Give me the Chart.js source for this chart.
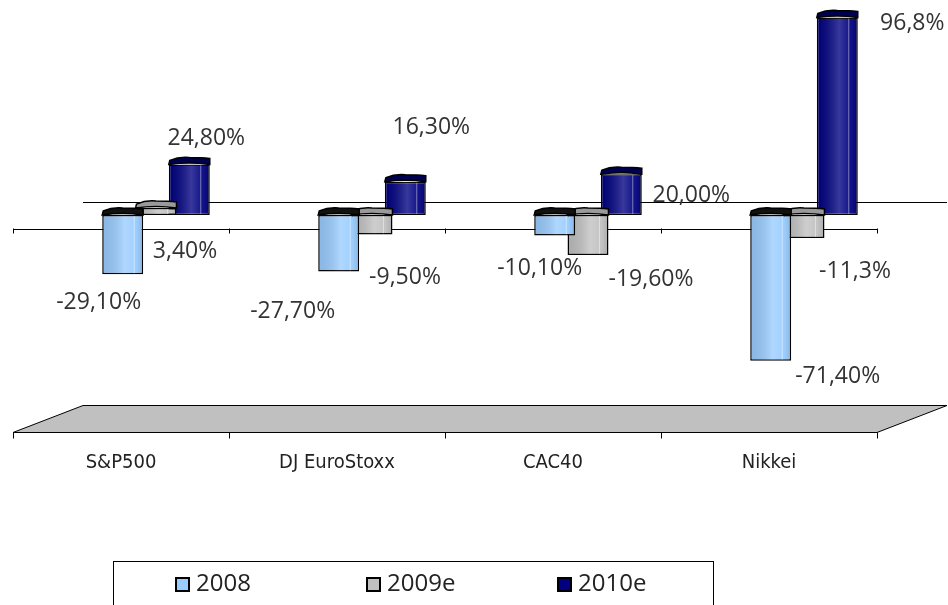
<!DOCTYPE html>
<html>
<head>
<meta charset="utf-8">
<script src="https://cdn.jsdelivr.net/npm/chart.js@4.4.1/dist/chart.umd.min.js"></script>
<style>
html, body { margin: 0; padding: 0; background: #fff; }
</style>
</head>
<body>
<canvas id="GraphIndices" width="948" height="605"></canvas>
<script>
// data
var categories = ['S&P500', 'DJ EuroStoxx', 'CAC40', 'Nikkei'];
var years = ['2008', '2009e', '2010e'];
var perf2008 = [-29.1, -27.7, -10.1, -71.4];
var perf2009 = [3.4, -9.5, -19.6, -11.3];
var perf2010 = [24.8, 16.3, 20.0, 96.8];
var text2008 = ['-29,10%', '-27,70%', '-10,10%', '-71,40%'];
var text2009 = ['3,40%', '-9,50%', '-19,60%', '-11,3%'];
var text2010 = ['24,80%', '16,30%', '20,00%', '96,8%'];

// where excel dropped each label, relative to the bar end
var labelShift = [
    [[-24, 28], [-46, 40], [-15, 33], [67, 16]],
    [[29, 43], [33, 43], [63, 24], [51, 33]],
    [[17, -26], [26, -54], [70, 21], [75, 6]]
];
var labelTexts = [text2008, text2009, text2010];
var capColors = ['#111', '#9a9a9a', '#000050'];

var depthX = 35, depthY = 13.5;
var valueFont = '23px "Open Sans", "Liberation Sans", sans-serif';
var catFont = '20px "DejaVu Sans Condensed", "Liberation Sans Narrow", sans-serif';

function hline(ctx, x1, x2, y) {
    ctx.beginPath();
    ctx.moveTo(x1, Math.round(y) + 0.5);
    ctx.lineTo(x2, Math.round(y) + 0.5);
    ctx.stroke();
}

var threeD = {
    id: 'threeD',
    beforeDatasetsDraw: function(chart) {
        var ctx = chart.ctx, xs = chart.scales.x, ys = chart.scales.y;
        var y0 = ys.getPixelForValue(0), yb = ys.getPixelForValue(ys.min);
        var L = xs.left, R = xs.right, step = (R - L) / categories.length;
        ctx.save();
        ctx.strokeStyle = '#000';
        ctx.lineWidth = 1;

        // floor
        ctx.fillStyle = '#c0c0c0';
        ctx.beginPath();
        ctx.moveTo(L - depthX, yb + depthY);
        ctx.lineTo(R - depthX, yb + depthY);
        ctx.lineTo(R + depthX, yb - depthY);
        ctx.lineTo(L + depthX, yb - depthY);
        ctx.closePath();
        ctx.fill();
        ctx.stroke();

        // back and front zero lines
        hline(ctx, L + depthX, R + depthX, y0 - depthY);
        hline(ctx, L - depthX, R - depthX, y0 + depthY);

        for (var i = 0; i <= categories.length; i++) {
            var tx = Math.round(L - depthX + i * step) + 0.5;
            ctx.beginPath();
            ctx.moveTo(tx, y0 + depthY);
            ctx.lineTo(tx, y0 + depthY + 5);
            ctx.moveTo(tx, yb + depthY);
            ctx.lineTo(tx, yb + depthY + 6);
            ctx.stroke();
        }

        // category names under the floor
        ctx.fillStyle = '#222';
        ctx.font = catFont;
        ctx.textAlign = 'center';
        ctx.textBaseline = 'middle';
        for (var j = 0; j < categories.length; j++) {
            ctx.fillText(categories[j], xs.getPixelForValue(j) - depthX, yb + depthY + 30);
        }
        ctx.restore();
    },
    afterDatasetDraw: function(chart, args) {
        var ctx = chart.ctx;
        var meta = args.meta;
        var capColor = capColors[args.index];
        ctx.save();
        meta.data.forEach(function(el) {
            var p = el.getProps(['x', 'y', 'base', 'width'], true);
            var left = p.x - p.width / 2, right = p.x + p.width / 2;
            var top = Math.min(p.y, p.base), bottom = Math.max(p.y, p.base);
            var w = right - left;

            // cylinder shading
            var g = ctx.createLinearGradient(left, 0, right, 0);
            g.addColorStop(0, 'rgba(0,0,0,0.10)');
            g.addColorStop(0.55, 'rgba(255,255,255,0.22)');
            g.addColorStop(0.8, 'rgba(255,255,255,0.08)');
            g.addColorStop(1, 'rgba(0,0,0,0.12)');
            ctx.fillStyle = g;
            ctx.fillRect(left + 1, top + 1, w - 2, bottom - top - 2);
            ctx.strokeStyle = 'rgba(255,255,255,0.45)';
            ctx.lineWidth = 1;
            ctx.beginPath();
            ctx.moveTo(left + w * 0.78, top + 1);
            ctx.lineTo(left + w * 0.78, bottom - 1);
            ctx.stroke();

            // top cap
            ctx.fillStyle = capColor;
            ctx.strokeStyle = '#000';
            ctx.lineWidth = 1.5;
            ctx.beginPath();
            ctx.moveTo(left, top);
            ctx.lineTo(left + 1, top - 4);
            ctx.quadraticCurveTo(left + w * 0.25, top - 8, left + w * 0.5, top - 7);
            ctx.quadraticCurveTo(left + w * 0.8, top - 7, right, top - 6);
            ctx.lineTo(right, top);
            ctx.quadraticCurveTo(left + w * 0.5, top - 3, left, top);
            ctx.closePath();
            ctx.fill();
            ctx.stroke();
        });
        ctx.restore();
    },
    afterDatasetsDraw: function(chart) {
        var ctx = chart.ctx;
        ctx.save();
        ctx.font = valueFont;
        ctx.fillStyle = '#333';
        ctx.textAlign = 'center';
        ctx.textBaseline = 'middle';
        chart.data.datasets.forEach(function(ds, d) {
            var meta = chart.getDatasetMeta(d);
            meta.data.forEach(function(el, i) {
                var sh = labelShift[d][i];
                ctx.fillText(labelTexts[d][i], el.x + sh[0], el.y + sh[1]);
            });
        });
        ctx.restore();
    },
    afterDraw: function(chart) {
        // legend box at the bottom
        var ctx = chart.ctx;
        var bx = 113, by = 561, bw = 600;
        ctx.save();
        ctx.fillStyle = '#fff';
        ctx.strokeStyle = '#000';
        ctx.lineWidth = 1;
        ctx.fillRect(bx, by, bw, 60);
        ctx.strokeRect(bx + 0.5, by + 0.5, bw, 60);
        ctx.font = '24px "Open Sans", "Liberation Sans", sans-serif';
        ctx.textBaseline = 'middle';
        ctx.textAlign = 'left';
        chart.data.datasets.forEach(function(ds, d) {
            var mx = bx + 62 + d * 191, my = 577;
            ctx.fillStyle = ds.backgroundColor;
            ctx.fillRect(mx, my, 14, 14);
            ctx.lineWidth = 2;
            ctx.strokeRect(mx + 1, my + 1, 13, 13);
            ctx.fillStyle = '#222';
            ctx.fillText(ds.label, mx + 21, my + 7);
        });
        ctx.restore();
    }
};

var ctx = document.getElementById('GraphIndices');
var chart = new Chart(ctx, {
    type: 'bar',
    data: {
        labels: categories,
        datasets: [
            { label: years[0], data: perf2008, backgroundColor: '#99ccff' },
            { label: years[1], data: perf2009, backgroundColor: '#c0c0c0' },
            { label: years[2], data: perf2010, backgroundColor: '#000080' }
        ]
    },
    options: {
        responsive: false,
        animation: false,
        devicePixelRatio: 1,
        layout: { padding: { left: 48, right: 36, top: 11, bottom: 186 } },
        datasets: {
            bar: {
                categoryPercentage: 0.4625,
                barPercentage: 1.23,
                borderColor: '#000',
                borderWidth: 1.5,
                borderSkipped: false
            }
        },
        scales: {
            x: { display: false },
            y: { display: false, min: -100, max: 100 }
        },
        plugins: {
            legend: { display: false },
            tooltip: { enabled: false }
        }
    },
    plugins: [threeD]
});
</script>
</body>
</html>
